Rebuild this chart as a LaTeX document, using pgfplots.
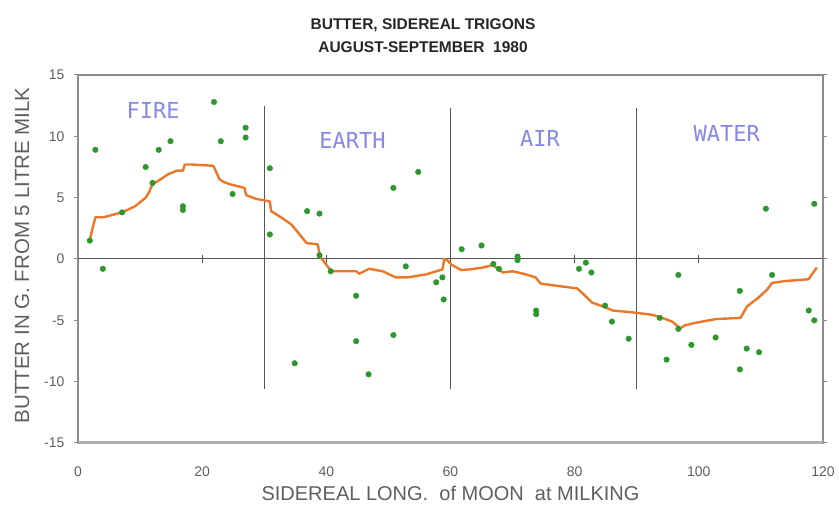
\documentclass[border=0pt]{standalone}
\usepackage{fontspec}
\setmainfont{Liberation Sans}
\newfontfamily\monofont{DejaVu Sans Mono}
\usepackage{pgfplots}
\pgfplotsset{compat=1.18}
\definecolor{dotgreen}{RGB}{45,150,45}
\definecolor{lineorange}{RGB}{235,120,40}
\definecolor{lav}{RGB}{135,135,230}
\definecolor{framegray}{RGB}{140,140,140}
\definecolor{ticktext}{RGB}{95,95,95}
\definecolor{divgray}{RGB}{85,85,85}
\begin{document}
\begin{tikzpicture}
\useasboundingbox (-78pt,-68pt) rectangle (761pt,443pt);
\begin{axis}[
  scale only axis, width=745pt, height=368pt,
  xmin=0, xmax=120, ymin=-15, ymax=15,
  xtick={0,20,...,120}, ytick={-15,-10,...,15},
  /pgf/number format/assume math mode=true,
  axis line style={framegray, line width=1.3pt},
  xtick style={draw=none},
  ytick style={framegray, line width=1pt},
  tick align=outside, major tick length=4pt,
  ticklabel style={font=\fontsize{14}{14}\selectfont, text=ticktext},
  xticklabel style={anchor=center, yshift=-25pt},
  yticklabel style={anchor=east, xshift=-6pt},
  xlabel={SIDEREAL LONG.\ \ of MOON\ \ at MILKING},
  ylabel={BUTTER IN G. FROM 5 LITRE MILK},
  xlabel style={font=\fontsize{20}{20}\selectfont, text=ticktext, at={(axis description cs:0.5,-0.136)}, anchor=center},
  ylabel style={font=\fontsize{20.5}{20.5}\selectfont, text=ticktext, at={(axis description cs:-0.075,0.51)}, anchor=center},
  clip=false,
]
% zero line and dividers
\addplot[divgray, line width=1pt, no marks] coordinates {(0,0) (120,0)};
\addplot[divgray, line width=1.1pt, no marks] coordinates {(30,-10.6) (30,12.5)};
\addplot[divgray, line width=1.1pt, no marks] coordinates {(60,-10.6) (60,12.3)};
\addplot[divgray, line width=1.1pt, no marks] coordinates {(90,-10.6) (90,12.3)};
\foreach \t in {20,40,60,80,100} {
  \addplot[divgray, line width=0.8pt, no marks] coordinates {(\t,-0.3) (\t,0.3)};
}
% bottom border thicker
\draw[framegray!70, line width=3pt] (rel axis cs:0,0) -- (rel axis cs:1,0);
% data points
\addplot[only marks, mark=*, mark size=2.8pt, color=dotgreen] coordinates {
(1.9,1.5) (2.8,8.9) (4.0,-0.8) (7.1,3.8) (10.9,7.5) (12.0,6.2) (13.0,8.9)
(14.9,9.6) (16.9,4.3) (16.9,4.0) (21.9,12.8) (23.0,9.6) (24.9,5.3) (27.0,10.7)
(27.0,9.9) (30.9,7.4) (30.9,2.0) (34.9,-8.5) (36.9,3.9) (38.9,3.7) (38.9,0.3)
(40.7,-1.0) (44.8,-3.0) (44.8,-6.7) (46.8,-9.4) (50.8,5.8) (50.8,-6.2)
(52.8,-0.6) (54.8,7.1) (57.7,-1.9) (58.7,-1.5) (58.9,-3.3) (61.8,0.8)
(65.0,1.1) (66.9,-0.4) (67.8,-0.8) (70.8,0.2) (70.8,-0.1) (73.8,-4.2)
(73.8,-4.5) (80.7,-0.8) (81.8,-0.3) (82.7,-1.1) (84.9,-3.8) (86.0,-5.1)
(88.7,-6.5) (93.7,-4.8) (94.8,-8.2) (96.7,-1.3) (96.7,-5.7) (98.8,-7.0)
(102.7,-6.4) (106.6,-2.6) (106.6,-9.0) (107.7,-7.3) (109.7,-7.6) (110.8,4.1)
(111.8,-1.3) (117.7,-4.2) (118.6,-5.0) (118.6,4.5)
};
% running mean
\addplot[lineorange, line width=2.4pt, no marks, line join=round] coordinates {
(1.9,1.6)(2.8,3.4)(4.1,3.4)(7.1,3.8)(9.2,4.3)(10.9,5.0)(11.4,5.4)(12.0,6.1)
(13.0,6.4)(14.5,6.9)(15.9,7.2)(16.9,7.2)(17.2,7.7)(18.3,7.7)(21.8,7.6)(22.8,6.5)
(23.4,6.3)(24.4,6.1)(26.8,5.8)(27.1,5.2)(28.7,4.9)(30.9,4.7)(31.1,3.9)(32.7,3.4)
(34.4,2.8)(35.7,2.0)(36.8,1.3)(38.6,1.2)(39.0,0.2)(40.5,-0.8)(40.7,-1.0)(44.8,-1.0)
(45.3,-1.2)(46.9,-0.8)(49.1,-1.0)(51.2,-1.5)(53.1,-1.5)(56.1,-1.25)(58.7,-0.85)
(59.0,0.0)(59.5,-0.1)(60.1,-0.45)(61.7,-0.9)(63.0,-0.85)(65.2,-0.7)(66.8,-0.5)
(67.8,-0.85)(68.4,-1.1)(70.0,-1.0)(72.1,-1.25)(73.7,-1.5)(74.5,-2.0)(75.9,-2.1)
(80.4,-2.4)(81.5,-2.9)(82.8,-3.55)(85.0,-3.95)(86.1,-4.2)(89.3,-4.35)(92.5,-4.55)
(94.1,-4.8)(95.7,-5.1)(97.0,-5.65)(97.8,-5.4)(99.5,-5.2)(102.7,-4.9)(106.7,-4.8)
(107.8,-3.85)(109.6,-3.15)(111.0,-2.5)(111.8,-1.95)(113.9,-1.8)(117.7,-1.65)
(118.2,-1.25)(118.8,-0.85)(119.0,-0.7)
};
% element labels
\node[text=lav, font=\monofont\fontsize{22}{22}\selectfont] at (axis cs:12.1,12.1) {FIRE};
\node[text=lav, font=\monofont\fontsize{22}{22}\selectfont] at (axis cs:44.2,9.7) {EARTH};
\node[text=lav, font=\monofont\fontsize{22}{22}\selectfont] at (axis cs:74.4,9.8) {AIR};
\node[text=lav, font=\monofont\fontsize{22}{22}\selectfont] at (axis cs:104.5,10.2) {WATER};
% title
\node[font=\bfseries\fontsize{15.5}{15.5}\selectfont, align=center, anchor=center, text=black!85]
  at (rel axis cs:0.4631,1.136) {BUTTER, SIDEREAL TRIGONS};
\node[font=\bfseries\fontsize{15.5}{15.5}\selectfont, align=center, anchor=center, text=black!85]
  at (rel axis cs:0.4631,1.076) {AUGUST-SEPTEMBER\ \ 1980};
\end{axis}
\end{tikzpicture}
\end{document}
